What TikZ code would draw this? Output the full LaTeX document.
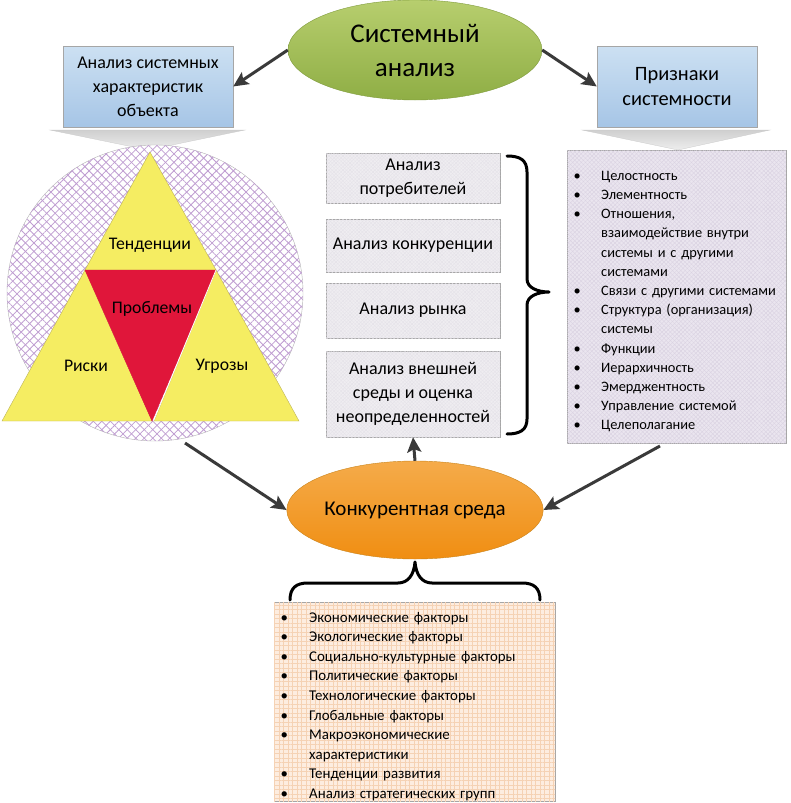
\documentclass[tikz,border=0pt]{standalone}
\usepackage{fontspec}
\setmainfont{Carlito}
\usetikzlibrary{shapes.geometric,arrows.meta,patterns.meta}
\definecolor{olTop}{HTML}{B7CE6E}
\definecolor{olBot}{HTML}{8FAE45}
\definecolor{olLine}{HTML}{7F9B3C}
\definecolor{blTop}{HTML}{CCE0F2}
\definecolor{blBot}{HTML}{A6C5E6}
\definecolor{boxLine}{HTML}{A6A6A6}
\definecolor{orTop}{HTML}{F5AB4A}
\definecolor{orBot}{HTML}{F08E12}
\definecolor{orLine}{HTML}{C9841C}
\definecolor{arrowc}{HTML}{3A3A3A}
\definecolor{yel}{HTML}{F5ED62}
\definecolor{yelLine}{HTML}{BDB45A}
\definecolor{redt}{HTML}{E0163A}
\definecolor{hatch}{HTML}{BF9DD1}
\definecolor{lavFill}{HTML}{EAE5EF}
\definecolor{lavPat}{HTML}{D9D1E1}
\definecolor{midFill}{HTML}{EFEDF1}
\definecolor{midPat}{HTML}{E4E1E8}
\definecolor{peach}{HTML}{FDEDE0}
\definecolor{peachPat}{HTML}{F5D2B4}
\definecolor{chTop}{HTML}{CFCFCF}
\definecolor{chBot}{HTML}{EEEEEE}
\newlength\lsthang
\newlength\lstbul
\newcommand\itm[1]{\par\noindent\makebox[\lsthang][l]{\hspace{\lstbul}\textbullet}#1}
\newcommand\itc[1]{\par\noindent\hspace*{\lsthang}#1}
\begin{document}
\begin{tikzpicture}[x=1pt,y=-1pt,
  arr/.style={draw=arrowc, line width=3pt, -{Stealth[length=15pt,width=14pt,inset=3pt]}},
  bluebox/.style={draw=boxLine, top color=blTop, bottom color=blBot, minimum width=170, minimum height=81, align=center, inner sep=2pt},
  midbox/.style={draw=boxLine, fill=midFill, minimum width=174, align=center, inner sep=2pt,
     font=\fontsize{18}{24}\selectfont,
     postaction={pattern={Lines[angle=45,distance=2.5pt,line width=0.3pt]}, pattern color=midPat},
     postaction={pattern={Lines[angle=-45,distance=2.5pt,line width=0.3pt]}, pattern color=midPat}},
  trilabel/.style={font=\fontsize{17.7}{20}\selectfont, inner sep=0pt},
  brace/.style={draw=black, line width=3pt, line cap=round, line join=round},
]
\useasboundingbox (0,0) rectangle (790,803);

% top ellipse
\node[ellipse, draw=olLine, top color=olTop, bottom color=olBot, minimum width=254, minimum height=100, inner sep=0pt, align=center, font=\fontsize{27}{34}\selectfont] (sys) at (415,50) {Системный\\анализ};

% top boxes
\node[bluebox, font=\fontsize{18}{24}\selectfont] (lbox) at (148,86.5) {Анализ системных\\характеристик\\объекта};
\node[bluebox, minimum width=160, font=\fontsize{20.4}{25}\selectfont] (rbox) at (677,86.5) {Признаки\\системности};

% chevrons
\shade[top color=chTop, bottom color=chBot, draw=boxLine!60, line width=0.3pt] (50,130) -- (245,130) -- (148,150) -- cycle;
\shade[top color=chTop, bottom color=chBot, draw=boxLine!60, line width=0.3pt] (582,130) -- (770,130) -- (678,150) -- cycle;

% circle with hatch
\node[circle, minimum size=296, inner sep=0pt, fill=white, draw=gray!60, line width=0.4pt,
  postaction={pattern={Lines[angle=45,distance=6pt,line width=0.8pt]}, pattern color=hatch},
  postaction={pattern={Lines[angle=-45,distance=6pt,line width=0.8pt]}, pattern color=hatch}] (circ) at (155,293) {};

% triangles
\filldraw[fill=yel, draw=yelLine, line width=0.4pt] (150,152) -- (85,270) -- (216,270) -- cycle;
\filldraw[fill=yel, draw=yelLine, line width=0.4pt] (85,270) -- (2,421) -- (152,421) -- cycle;
\filldraw[fill=yel, draw=yelLine, line width=0.4pt] (216,270) -- (154,421) -- (299,421) -- cycle;
\filldraw[fill=redt, draw=redt, line width=0.4pt] (85,270) -- (216,270) -- (152,421) -- cycle;
\draw[white, line width=0.8pt] (216,270) -- (153.5,421);
\node[trilabel] (ten) at (150,245) {Тенденции};
\node[trilabel] (pro) at (152,309) {Проблемы};
\node[trilabel] (ris) at (86,366) {Риски};
\node[trilabel] (ugr) at (222,366) {Угрозы};

% middle boxes
\node[midbox, minimum height=50] (m1) at (413,178) {Анализ\\потребителей};
\node[midbox, minimum height=53] (m2) at (413,245.5) {Анализ конкуренции};
\node[midbox, minimum height=55] (m3) at (413,310.5) {Анализ рынка};
\node[midbox, minimum height=86] (m4) at (413,394) {Анализ внешней\\среды и оценка\\неопределенностей};

% right brace
\draw[brace] (507,156) .. controls (520,156) and (527,160) .. (527,172) -- (527,279) .. controls (527,288) and (538,292) .. (549,292) .. controls (538,292) and (527,296) .. (527,305) -- (527,419) .. controls (527,430) and (520,434) .. (507,434);

% right list
\node[draw=boxLine, fill=lavFill, anchor=north west, minimum width=219, minimum height=293, inner xsep=4pt, inner ysep=0pt, text width=211pt, align=left,
  font=\fontsize{14.4}{19.2}\selectfont,
  postaction={pattern={Lines[angle=45,distance=3pt,line width=0.35pt]}, pattern color=lavPat},
  postaction={pattern={Lines[angle=-45,distance=3pt,line width=0.35pt]}, pattern color=lavPat}] (lst) at (567,150) {%
\setlength\lsthang{30pt}\setlength\lstbul{2.5pt}%
\itm{Целостность}
\itm{Элементность}
\itm{Отношения,}
\itc{взаимодействие внутри}
\itc{системы и с другими}
\itc{системами}
\itm{Связи с другими системами}
\itm{Структура (организация)}
\itc{системы}
\itm{Функции}
\itm{Иерархичность}
\itm{Эмерджентность}
\itm{Управление системой}
\itm{Целеполагание}\par};

% bottom ellipse
\node[ellipse, draw=orLine, top color=orTop, bottom color=orBot, minimum width=256, minimum height=98, inner sep=0pt, font=\fontsize{21}{24}\selectfont] (kon) at (415,510) {Конкурентная среда};

% bottom brace
\draw[brace] (290,600) .. controls (290,588) and (296,583) .. (308,583) -- (398,583) .. controls (408,583) and (414,575) .. (415,562) .. controls (416,575) and (422,583) .. (432,583) -- (522,583) .. controls (534,583) and (540,588) .. (540,600);

% bottom list
\node[draw=boxLine, fill=peach, anchor=north west, minimum width=281, minimum height=199, inner xsep=4pt, inner ysep=0pt, text width=273pt, align=left,
  font=\fontsize{14.9}{19.6}\selectfont,
  postaction={pattern={Lines[angle=0,distance=4.5pt,line width=0.35pt]}, pattern color=peachPat},
  postaction={pattern={Lines[angle=90,distance=4.5pt,line width=0.35pt]}, pattern color=peachPat}] (blst) at (274,602) {%
\setlength\lsthang{31pt}\setlength\lstbul{2.5pt}%
\itm{Экономические факторы}
\itm{Экологические факторы}
\itm{Социально-культурные факторы}
\itm{Политические факторы}
\itm{Технологические факторы}
\itm{Глобальные факторы}
\itm{Макроэкономические}
\itc{характеристики}
\itm{Тенденции развития}
\itm{Анализ стратегических групп}\par};

% arrows
\coordinate (lstout) at (660,446);
\coordinate (circout) at (185,443);
\draw[arr] (sys.west) -- (lbox.east);
\draw[arr] (sys.east) -- (rbox.west);
\draw[arr] (kon.north) -- (m4.south);
\draw[arr] (circout) -- (kon.west);
\draw[arr] (lstout) -- (kon.east);
\end{tikzpicture}
\end{document}
